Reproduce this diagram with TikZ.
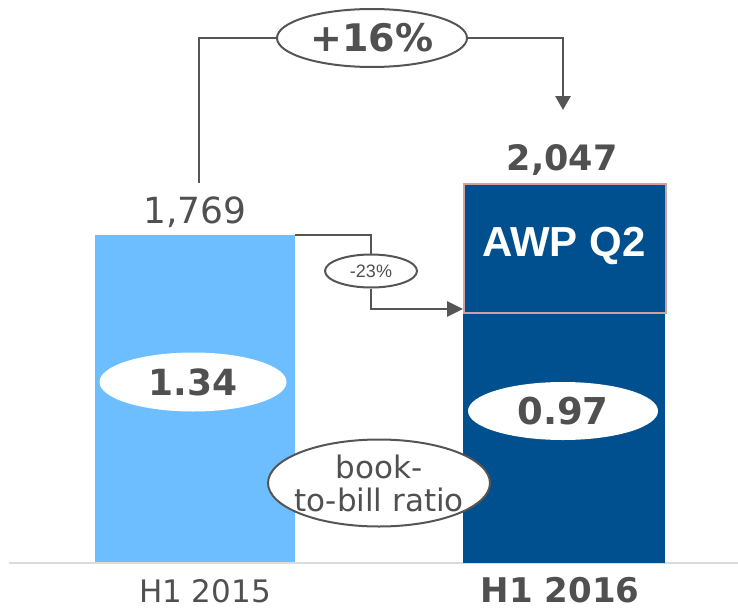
\documentclass[tikz,border=0pt]{standalone}
\usepackage{fontspec}
\setmainfont{DejaVu Sans}
\newfontfamily\arialf{Liberation Sans}
\usetikzlibrary{shapes.geometric,arrows.meta}
\definecolor{lightbar}{RGB}{108,190,255}
\definecolor{darkbar}{RGB}{0,80,143}
\definecolor{txtgray}{RGB}{80,80,80}
\definecolor{linegray}{RGB}{85,85,85}
\definecolor{pinkedge}{RGB}{210,160,160}
\definecolor{basegray}{RGB}{220,220,220}
\tikzset{
  barbox/.style={rectangle, draw=none, inner sep=0pt, anchor=north west},
  conn/.style={draw=linegray, line width=2.8pt},
  tagell/.style={ellipse, draw=linegray, line width=2pt, fill=white, inner sep=0pt, text=txtgray},
  whiteell/.style={ellipse, fill=white, draw=none, inner sep=0pt, text=txtgray},
  lbl/.style={text=txtgray, inner sep=0pt}
}
\begin{document}
\begin{tikzpicture}[x=1pt,y=-1pt]
\useasboundingbox (0,0) rectangle (738,610);
% baseline
\draw[basegray, line width=2pt] (9,563) -- (738,563);
% bars
\node[barbox, fill=lightbar, minimum width=200pt, minimum height=327pt] (b1) at (95,235) {};
\node[barbox, fill=darkbar, minimum width=202pt, minimum height=251pt] (b2) at (463,312) {};
\node[barbox, fill=darkbar, draw=pinkedge, line width=1.5pt, minimum width=202pt, minimum height=129pt] (awp) at (463,183) {};
\node[text=white, font=\arialf\bfseries\fontsize{42}{46}\selectfont] (awpt) at (564,246) {AWP Q2};
% values
\node[lbl, font=\fontsize{36}{38}\selectfont] (v1) at (195,212) {1,769};
\node[lbl, font=\bfseries\fontsize{35}{38}\selectfont] (v2) at (562,160) {2,047};
% axis labels
\node[lbl, font=\fontsize{31}{34}\selectfont] (x1) at (205,591) {H1 2015};
\node[lbl, font=\bfseries\fontsize{34}{36}\selectfont] (x2) at (560,590) {H1 2016};
% ratio ellipses
\node[whiteell, minimum width=187pt, minimum height=59pt, font=\bfseries\fontsize{36}{38}\selectfont] (r1) at (193,382) {1.34};
\node[whiteell, minimum width=190pt, minimum height=58pt, font=\bfseries\fontsize{37}{40}\selectfont] (r2) at (563,411) {0.97};
\node[tagell, minimum width=222pt, minimum height=87pt] (btb) at (379,483) {};
\node[lbl, align=center, font=\fontsize{31}{33}\selectfont] (btbt) at (btb.center) {book-\\to-bill ratio};
% +16% connector
\node[tagell, minimum width=190pt, minimum height=58pt, font=\bfseries\fontsize{38}{40}\selectfont] (p16) at (372,38) {+16\%};
\coordinate (s1) at (199,183);
\coordinate (e1) at (563,110);
\draw[conn] (s1) |- (p16.west);
\draw[conn, -{Triangle[width=15pt,length=14pt]}] (p16.east) -| (e1);
% -23% connector
\node[tagell, minimum width=92pt, minimum height=33pt, font=\arialf\fontsize{18}{20}\selectfont] (m23) at (371,271) {-23\%};
\coordinate (a23) at (463,309);
\draw[conn] (b1.north east) -| (m23.north);
\draw[conn, -{Triangle[width=15pt,length=16pt]}] (m23.south) |- (a23);
\end{tikzpicture}
\end{document}
